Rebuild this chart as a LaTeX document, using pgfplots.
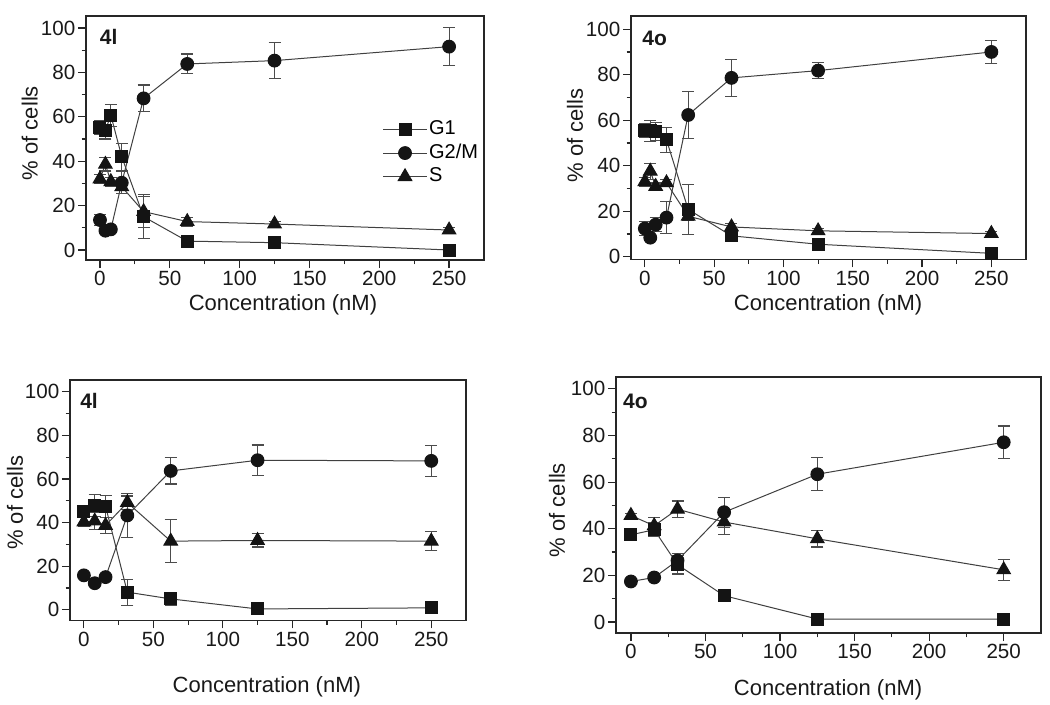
\documentclass[border=0pt]{standalone}
\usepackage{fontspec}
\setmainfont{Liberation Sans}
\usepackage{pgfplots}
\pgfplotsset{compat=1.18}

\tikzset{plab/.style={font=\bfseries\fontsize{10.5}{12}\selectfont, anchor=west, inner sep=0pt, text=black!90}}
\pgfplotsset{
  cellaxis/.style={
    scale only axis,
    xmin=-10, xmax=275,
    xtick={0,50,...,250}, ytick={0,20,...,100},
    minor x tick num=1, minor y tick num=1,
    tick pos=left,
    tick align=outside,
    major tick length=4pt, minor tick length=2.2pt,
    axis line style={line width=0.8pt, black!85},
    every tick/.style={line width=0.6pt, black!85},
    every minor tick/.style={line width=0.6pt, black!85},
    every tick label/.append style={font=\fontsize{10.3}{12}\selectfont, text=black!90},
    xticklabel style={yshift=1.8pt},
    yticklabel style={xshift=2.2pt},
    /pgf/number format/assume math mode=true,
    label style={font=\fontsize{11}{13}\selectfont, text=black!90},
    xlabel={Concentration (nM)},
    ylabel={\% of cells},
    clip=false,
  },
  eb/.style={
    error bars/y dir=both, error bars/y explicit,
    error bars/error bar style={line width=0.55pt, black!70},
    error bars/error mark options={rotate=90, mark size=3pt, line width=0.55pt, black!70},
  },
  ln/.style={black!75, line width=0.5pt},
  g1/.style={ln, eb, mark=square*, mark size=3pt, mark options={solid, fill=black!92, draw=black!92}},
  g2/.style={ln, eb, mark=*, mark size=3.2pt, mark options={solid, fill=black!92, draw=black!92}},
  gs/.style={ln, eb, mark=triangle*, mark size=3.9pt, mark options={solid, fill=black!92, draw=black!92}},
}

\begin{document}
\begin{tikzpicture}
\path[use as bounding box] (0,0) rectangle (525pt,-352.5pt);

% ---------------- top left: 4l ----------------
\begin{axis}[cellaxis, at={(43pt,-8pt)}, anchor=north west,
  width=199pt, height=122pt, ymin=-4.5, ymax=105.4,
  ylabel style={at={(axis description cs:-0.141,0.52)}, anchor=center},
  xlabel style={at={(axis description cs:0.495,-0.184)}, anchor=center},
  legend style={draw=none, fill=none, at={(0.745,0.585)}, anchor=north west,
    font=\fontsize{10}{12}\selectfont, inner sep=0pt,
    nodes={text height=7.4pt, text depth=2.4pt, inner sep=1pt}},
  legend cell align=left,
  legend image code/.code={\draw[mark repeat=2,mark phase=2] plot coordinates {(0cm,0cm) (0.38cm,0cm) (0.76cm,0cm)};},
]
\addplot[g1] table[y error=e] {
x y e
0 55.1 3
3.9 54 4
7.8 60.7 5
15.6 42 6
31.25 15 10
62.5 4 1
125 3.3 0.5
250 0 0.5
};
\addlegendentry{G1}
\addplot[g2] table[y error=e] {
x y e
0 13.5 2.5
3.9 8.7 1
7.8 9.3 1
15.6 30.3 5
31.25 68.3 6
62.5 83.8 4.5
125 85.3 8
250 91.6 8.6
};
\addlegendentry{G2/M}
\addplot[gs] table[y error=e] {
x y e
0 32 2
3.9 38.6 3
7.8 30.8 2
15.6 28.5 3
31.25 17.3 7
62.5 12.8 2
125 11.7 1
250 9 1
};
\addlegendentry{S}
\node[plab] at (rel axis cs:0.034,0.914) {4l};
\end{axis}

% ---------------- top right: 4o ----------------
\begin{axis}[cellaxis, at={(315.5pt,-8pt)}, anchor=north west,
  width=197.5pt, height=121.75pt, ymin=-1.2, ymax=105.8,
  ylabel style={at={(axis description cs:-0.142,0.51)}, anchor=center},
  xlabel style={at={(axis description cs:0.499,-0.187)}, anchor=center},
]
\addplot[g1] table[y error=e] {
x y e
0 55.6 3
3.9 55.3 4.5
7.8 55 4
15.6 51.4 5.4
31.25 20.8 11
62.5 9.2 1
125 5.5 1
250 1.5 0.5
};
\addplot[g2] table[y error=e] {
x y e
0 12.4 3
3.9 8.4 1
7.8 14.1 3
15.6 17.2 7
31.25 62.3 10.4
62.5 78.6 8
125 81.8 3.4
250 90 5
};
\addplot[gs] table[y error=e] {
x y e
0 33 2
3.9 37.6 3.5
7.8 30.9 1.5
15.6 32.5 1.5
31.25 17.8 2
62.5 13.1 1.5
125 11.4 1
250 10.2 1
};
\node[plab] at (rel axis cs:0.028,0.908) {4o};
\end{axis}

% ---------------- bottom left: 4l ----------------
\begin{axis}[cellaxis, at={(35pt,-190pt)}, anchor=north west,
  width=198pt, height=120.25pt, ymin=-4.9, ymax=105.4,
  ylabel style={at={(axis description cs:-0.139,0.49)}, anchor=center},
  xlabel style={at={(axis description cs:0.497,-0.276)}, anchor=center},
]
\addplot[g1] table[y error=e] {
x y e
0 44.9 2
7.8 47.9 5
15.6 47.5 5
31.25 8.1 6
62.5 5 3
125 0.4 0.5
250 0.9 0.5
};
\addplot[g2] table[y error=e] {
x y e
0 15.8 1
7.8 12.2 1
15.6 15 1
31.25 43.3 10
62.5 63.7 6
125 68.6 7
250 68.3 7
};
\addplot[gs] table[y error=e] {
x y e
0 40.3 2
7.8 40.7 4
15.6 38.7 3.5
31.25 49.2 3
62.5 31.5 10
125 31.8 3
250 31.5 4.5
};
\node[plab] at (rel axis cs:0.025,0.913) {4l};
\end{axis}

% ---------------- bottom right: 4o ----------------
\begin{axis}[cellaxis, at={(308pt,-188.5pt)}, anchor=north west,
  width=212.5pt, height=128pt, ymin=-4.7, ymax=105.1,
  ylabel style={at={(axis description cs:-0.139,0.48)}, anchor=center},
  xlabel style={at={(axis description cs:0.499,-0.223)}, anchor=center},
]
\addplot[g1] table[y error=e] {
x y e
0 37.4 2
15.6 39.6 3
31.25 24.6 4
62.5 11.3 1
125 1.3 0.5
250 1.3 0.5
};
\addplot[g2] table[y error=e] {
x y e
0 17.4 1
15.6 19.1 1
31.25 26.4 3
62.5 47.1 6.5
125 63.4 7
250 77.1 7
};
\addplot[gs] table[y error=e] {
x y e
0 45.7 1
15.6 41.3 3.5
31.25 48.4 3.5
62.5 42.9 5.5
125 35.7 3.5
250 22.4 4.6
};
\node[plab] at (rel axis cs:0.016,0.906) {4o};
\end{axis}
\end{tikzpicture}
\end{document}
